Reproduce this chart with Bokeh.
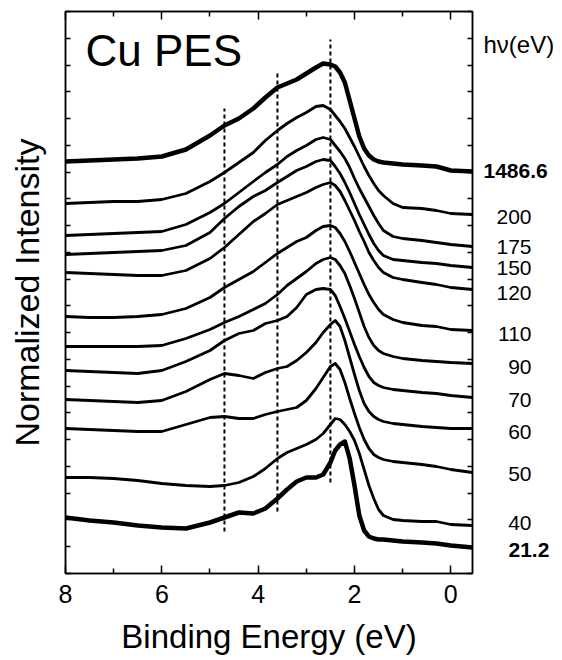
from bokeh.plotting import figure
from bokeh.models import Range1d, LinearAxis, FixedTicker, Label, CustomLabelingPolicy
from bokeh.layouts import row
from bokeh.core.properties import value
from bokeh.embed import file_html
from bokeh.resources import INLINE

# ---- data (binding energy in eV, intensity in arbitrary offset units) ----
energy = [8.0, 7.5, 7.0, 6.5, 6.0, 5.5, 5.0, 4.7, 4.4, 4.1, 3.85, 3.6, 3.4, 3.2, 3.0,
          2.8, 2.65, 2.5, 2.4, 2.3, 2.2, 2.1, 2.0, 1.9, 1.8, 1.7, 1.6, 1.5, 1.4, 1.2,
          1.0, 0.6, 0.3, 0.0, -0.45]

hv_1486 = [412, 413, 414, 415, 417, 424, 438, 448, 455, 465, 476, 486, 490, 494, 500,
           506, 510, 509, 507, 501, 491, 473, 455, 437, 425, 418, 414, 412, 411, 410,
           409, 408, 407, 403, 402]
hv_200 = [370, 371, 372, 372, 374, 380, 392, 401, 411, 421, 433, 443, 450, 456, 461,
          467, 468, 464, 458, 452, 445, 436, 427, 417, 407, 398, 390, 383, 378, 370,
          366, 365, 363, 360, 359]
hv_175 = [338, 339, 340, 341, 342, 349, 361, 370, 381, 392, 401, 409, 417, 423, 428,
          434, 436, 434, 428, 422, 415, 406, 395, 385, 376, 367, 358, 350, 343, 337,
          335, 333, 331, 329, 327]
hv_150 = [319, 320, 321, 322, 323, 328, 341, 355, 367, 377, 383, 391, 397, 403, 407,
          412, 414, 413, 407, 400, 391, 381, 370, 359, 349, 339, 330, 323, 318, 314,
          313, 311, 310, 308, 306]
hv_120 = [301, 300, 299, 298, 298, 303, 315, 326, 339, 352, 360, 369, 373, 377, 381,
          386, 389, 391, 388, 382, 373, 363, 353, 342, 332, 321, 313, 306, 301, 296,
          294, 291, 289, 286, 284]
hv_110 = [257, 256, 256, 257, 259, 265, 276, 286, 294, 302, 311, 320, 326, 332, 336,
          343, 347, 348, 346, 340, 332, 322, 311, 300, 289, 279, 271, 264, 259, 254,
          251, 248, 247, 244, 243]
hv_90 = [227, 227, 227, 227, 228, 235, 244, 251, 257, 264, 270, 279, 288, 295, 302,
         310, 314, 316, 314, 308, 300, 288, 275, 261, 247, 236, 228, 223, 220, 217,
         215, 213, 212, 211, 210]
hv_70 = [203, 202, 201, 200, 203, 212, 223, 233, 240, 243, 250, 253, 257, 266, 279,
         284, 285, 284, 278, 267, 255, 242, 229, 217, 206, 197, 191, 188, 186, 184,
         183, 181, 180, 178, 176]
hv_60 = [174, 173, 172, 171, 173, 182, 194, 200, 198, 195, 201, 205, 207, 213, 221,
         231, 241, 249, 253, 247, 233, 216, 199, 183, 170, 162, 157, 154, 152, 150,
         149, 147, 146, 145, 145]
hv_50 = [145, 144, 143, 142, 142, 149, 156, 157, 155, 155, 159, 162, 164, 166, 173,
         185, 196, 207, 210, 204, 191, 175, 160, 146, 134, 125, 119, 116, 114, 112,
         111, 109, 107, 104, 101]
hv_40 = [96, 96, 95, 93, 90, 88, 87, 88, 91, 97, 105, 115, 121, 125, 129,
         134, 140, 149, 155, 154, 149, 142, 133, 120, 104, 88, 75, 64, 58, 54,
         53, 52, 52, 49, 48]
hv_21 = [56, 53, 51, 48, 46, 45, 51, 56, 61, 60, 65, 75, 84, 92, 96,
         96, 99, 111, 123, 129, 132, 115, 88, 58, 43, 37, 35, 34, 34, 33,
         32, 31, 30, 28, 26]

photon_labels = ["1486.6", "200", "175", "150", "120", "110", "90", "70", "60", "50", "40", "21.2"]
bold_curves = [True, False, False, False, False, False, False, False, False, False, False, True]

dash_energy = [4.7, 3.6, 2.5]
dash_low = [42, 62, 91]
dash_high = [465, 501, 534]

x_ticks = [8, 6, 4, 2, 0]
x_tick_labels = ["8", "6", "4", "2", "0"]
x_minor_ticks = [7, 5, 3, 1]

# ---- layout constants ----
FONT = "Liberation Sans"
label_y = [403, 357, 327, 306, 281, 240, 207, 174, 142, 100, 51, 24]   # centre of each hv label
label_x = [9, 57, 57, 57, 57, 57, 57, 57, 57, 57, 57, 34]              # px inside the side panel
label_align = ["left"] + ["right"] * 10 + ["left"]
y_tick_pos = [round(i * 562 / 21, 2) for i in range(22)]

yr = Range1d(0, 562)
p = figure(width=474, height=660, x_range=Range1d(8, -0.45), y_range=yr,
           output_backend="svg", toolbar_location=None,
           min_border_left=65, min_border_right=2, min_border_top=11, min_border_bottom=87)
p.xgrid.visible = False
p.ygrid.visible = False
p.outline_line_color = "black"
p.outline_line_width = 1.5
p.background_fill_color = "white"
p.border_fill_color = "white"

xt = FixedTicker(ticks=x_ticks, minor_ticks=x_minor_ticks)
yt = FixedTicker(ticks=y_tick_pos)


def no_labels(ax):
    ax.major_label_policy = CustomLabelingPolicy(code="return []")
    ax.major_label_text_font_size = "0px"
    ax.major_label_standoff = 0


def style_x(ax, show_labels):
    ax.ticker = xt
    ax.major_tick_in = 8
    ax.major_tick_out = 0
    ax.minor_tick_in = 5
    ax.minor_tick_out = 0
    ax.axis_line_width = 1.5
    ax.major_tick_line_width = 1.5
    ax.minor_tick_line_width = 1.5
    ax.axis_line_color = "black"
    ax.major_tick_line_color = "black"
    ax.minor_tick_line_color = "black"
    if show_labels:
        ax.major_label_overrides = {v: t for v, t in zip(x_ticks, x_tick_labels)}
        ax.major_label_text_font = FONT
        ax.major_label_text_font_size = "25px"
        ax.major_label_text_color = "black"
        ax.major_label_standoff = 11
    else:
        no_labels(ax)


def style_y(ax):
    ax.ticker = yt
    ax.major_tick_in = 5
    ax.major_tick_out = 0
    ax.minor_tick_line_color = None
    ax.axis_line_width = 1.5
    ax.major_tick_line_width = 1.5
    ax.axis_line_color = "black"
    ax.major_tick_line_color = "black"
    no_labels(ax)


style_x(p.xaxis[0], True)
p.xaxis[0].axis_label = "Binding Energy (eV)"
p.xaxis[0].axis_label_text_font = FONT
p.xaxis[0].axis_label_text_font_size = "33px"
p.xaxis[0].axis_label_text_font_style = "normal"
p.xaxis[0].axis_label_text_color = "black"
p.xaxis[0].axis_label_standoff = 12

style_y(p.yaxis[0])
p.yaxis[0].axis_label = "Normalized Intensity"
p.yaxis[0].axis_label_text_font = FONT
p.yaxis[0].axis_label_text_font_size = "34px"
p.yaxis[0].axis_label_text_font_style = "normal"
p.yaxis[0].axis_label_text_color = "black"
p.yaxis[0].axis_label_standoff = 20

top_axis = LinearAxis()
style_x(top_axis, False)
p.add_layout(top_axis, "above")

right_axis = LinearAxis()
style_y(right_axis)
p.add_layout(right_axis, "right")

curves = [hv_1486, hv_200, hv_175, hv_150, hv_120, hv_110, hv_90, hv_70, hv_60, hv_50, hv_40, hv_21]
for ys, bold in zip(curves, bold_curves):
    p.line(energy, ys, line_color="black", line_width=4.5 if bold else 2.8,
           line_join="round", line_cap="round")

p.segment(x0=dash_energy, y0=dash_low, x1=dash_energy, y1=dash_high,
          line_color="black", line_width=2, line_dash="4 3")

p.add_layout(Label(x=20, y=523, x_units="screen", y_units="data", text="Cu PES",
                   text_font=FONT, text_font_size="44px", text_align="left",
                   text_baseline="alphabetic", text_color="black"))

# ---- side panel carrying the photon-energy labels ----
side = figure(width=88, height=660, x_range=Range1d(0, 88), y_range=yr,
              output_backend="svg", toolbar_location=None,
              x_axis_location=None, y_axis_location=None,
              min_border_left=0, min_border_right=0, min_border_top=11, min_border_bottom=87)
side.xgrid.visible = False
side.ygrid.visible = False
side.outline_line_color = None
side.background_fill_color = "white"
side.border_fill_color = "white"

for style in ("normal", "bold"):
    sel = [i for i, b in enumerate(bold_curves) if (style == "bold") == b]
    for al in ("left", "right"):
        idx = [i for i in sel if label_align[i] == al]
        if not idx:
            continue
        side.text(x=[label_x[i] for i in idx], y=[label_y[i] for i in idx],
                  text=[photon_labels[i] for i in idx],
                  text_font=value(FONT), text_font_size="21px", text_font_style=style,
                  text_align=al, text_baseline="middle", text_color="black")

side.text(x=[9], y=[529], text=["h\u03bd(eV)"], text_font=value(FONT),
          text_font_size="24px", text_align="left", text_baseline="middle",
          text_color="black")

layout = row(p, side)
open("out.html", "w").write(file_html(layout, INLINE))
